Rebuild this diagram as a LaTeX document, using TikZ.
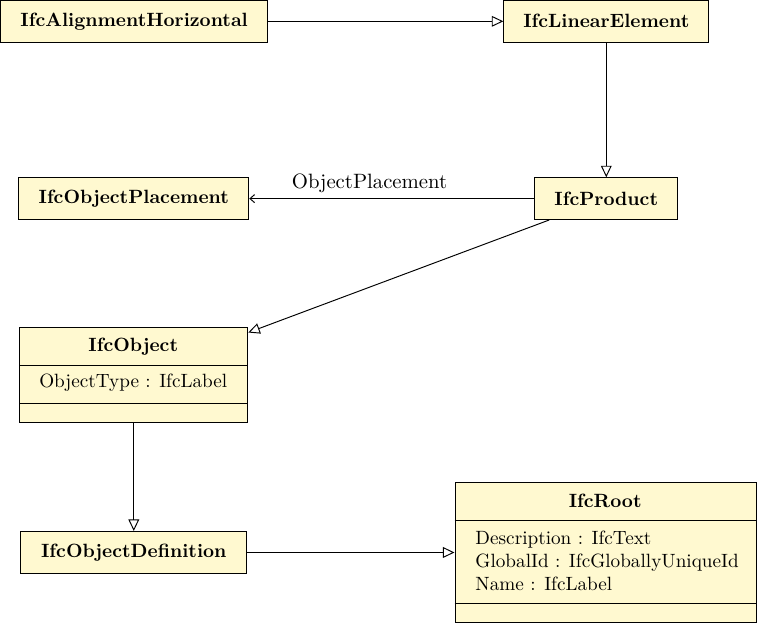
\documentclass[tikz,border=0pt]{standalone}
\usetikzlibrary{arrows.meta}
\definecolor{umlfill}{RGB}{255,249,208}
\def\pu{0.5208pt}
\begin{document}
\begin{tikzpicture}[x=0.5208pt,y=-0.5208pt,
  line width=0.5pt,
  umlbox/.style={draw=black, fill=umlfill, rectangle, inner sep=0pt, anchor=north west,
    font=\fontsize{10}{12}\selectfont\bfseries},
  title/.style={inner sep=0pt, font=\fontsize{10}{12}\selectfont\bfseries},
  attr/.style={inner sep=0pt, font=\fontsize{10}{12}\selectfont, align=left},
  gen/.style={-{Triangle[open,length=6pt,width=5.6pt]}},
  assoc/.style={-{Straight Barb[length=2.4pt,width=4.2pt]}},
  lbl/.style={inner sep=0pt, font=\fontsize{10.8}{13}\selectfont}
]
\useasboundingbox (0,0) rectangle (757,623);

% simple boxes
\node[umlbox, minimum width=266.7*\pu, minimum height=41.7*\pu] (ah) at (0.3,0) {IfcAlignmentHorizontal};
\node[umlbox, minimum width=205*\pu, minimum height=41.7*\pu] (le) at (503.3,0) {IfcLinearElement};
\node[umlbox, minimum width=230*\pu, minimum height=41.7*\pu] (op) at (18.3,177.3) {IfcObjectPlacement};
\node[umlbox, minimum width=143*\pu, minimum height=41.7*\pu] (prod) at (534.3,177.3) {IfcProduct};
\node[umlbox, minimum width=226*\pu, minimum height=42*\pu] (od) at (20.3,531) {IfcObjectDefinition};

% IfcObject (three compartments)
\node[umlbox, minimum width=228*\pu, minimum height=95*\pu] (obj) at (19.3,327.3) {};
\node[title] (objt) at (133.3,346.5) {IfcObject};
\node[attr] (obja) at (133.3,383) {ObjectType : IfcLabel};
\draw (19.3,365.7) -- (247.3,365.7);
\draw (19.3,403.3) -- (247.3,403.3);

% IfcRoot (three compartments)
\node[umlbox, minimum width=301.5*\pu, minimum height=140*\pu] (root) at (454.5,482.3) {};
\node[title] (roott) at (605.2,500.7) {IfcRoot};
\node[attr, anchor=west] (roota) at (475,560.6) {Description : IfcText\\GlobalId : IfcGloballyUniqueId\\Name : IfcLabel};
\draw (454.5,520) -- (756,520);
\draw (454.5,603.3) -- (756,603.3);

% connectors
\draw[gen] (ah) -- (le);
\draw[gen] (le) -- (prod);
\draw[assoc] (prod) -- (op) node[lbl, pos=0.578, anchor=base, yshift=5.4pt] (oplbl) {ObjectPlacement};
\draw[gen] (prod) -- (obj);
\draw[gen] (obj.south) -- (obj.south |- od.north);
\draw[gen] (od.east) -- (od.east -| root.west);
\end{tikzpicture}
\end{document}
